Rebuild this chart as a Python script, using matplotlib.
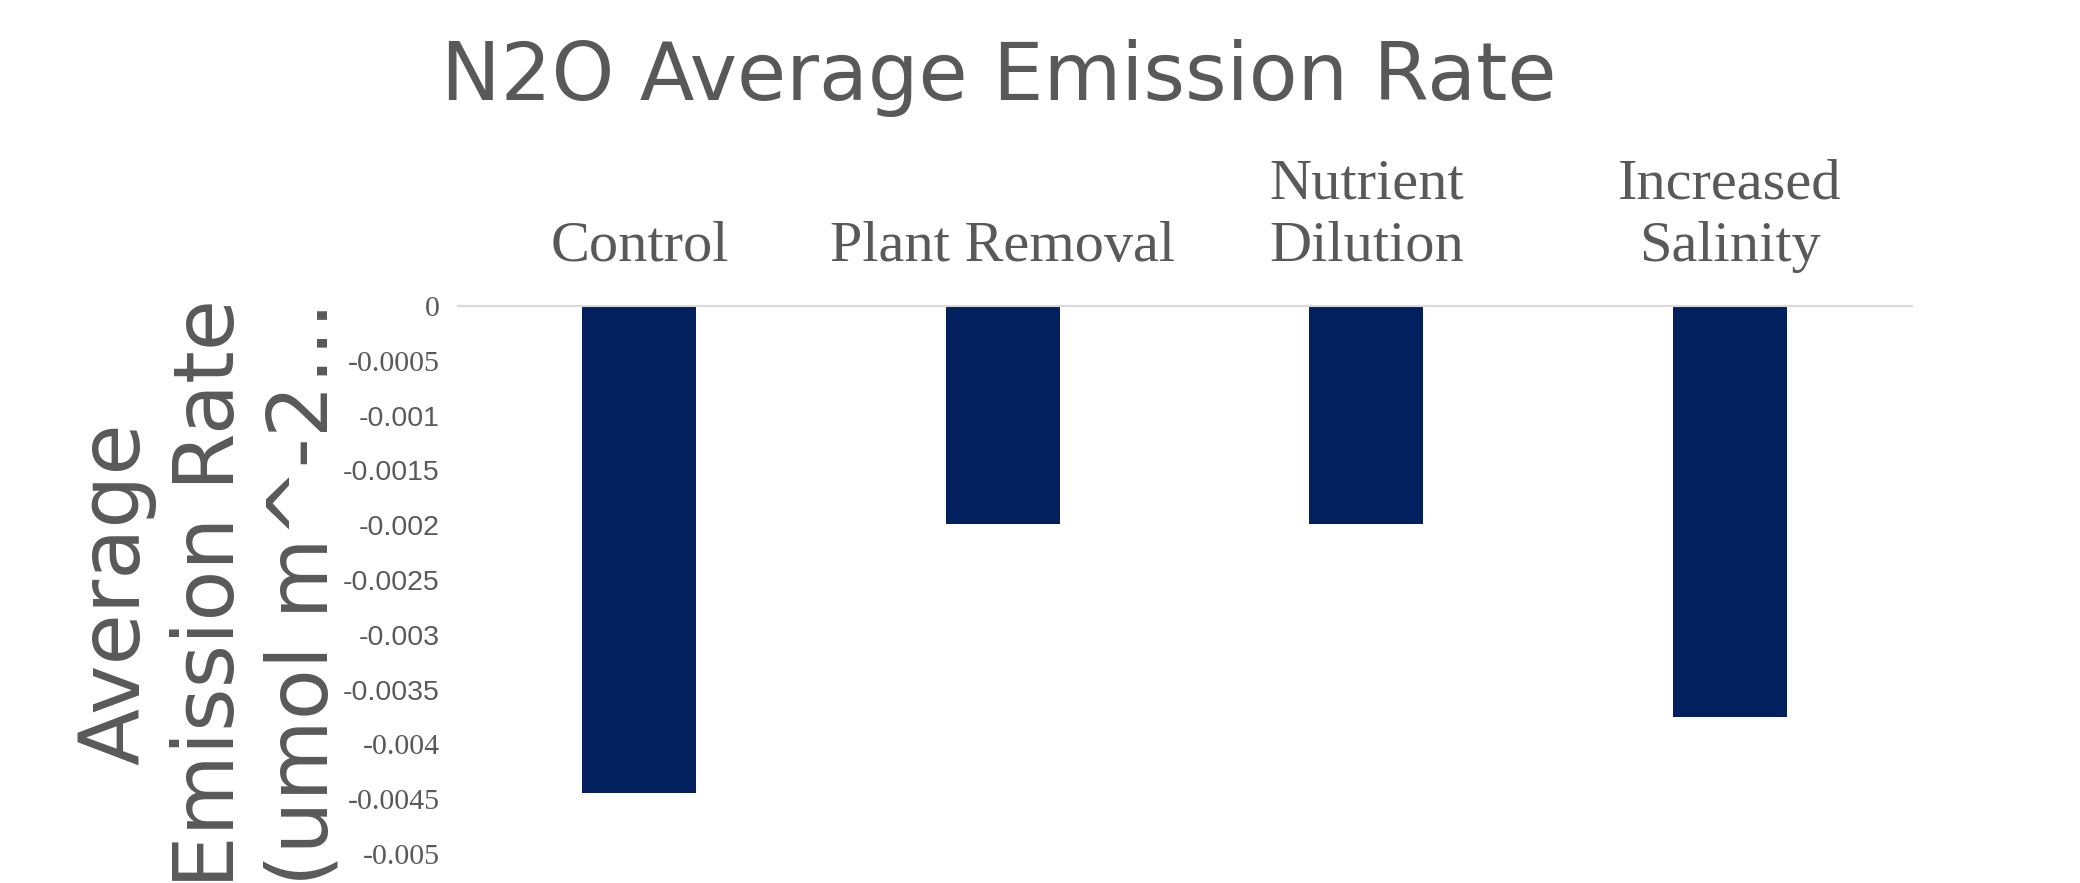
import matplotlib.pyplot as plt

categories = ["Control", "Plant Removal", "Nutrient\nDilution", "Increased\nSalinity"]
emission_rate = [-0.00444, -0.00199, -0.00199, -0.00375]
y_ticks = [0, -0.0005, -0.001, -0.0015, -0.002, -0.0025, -0.003, -0.0035, -0.004, -0.0045, -0.005]
y_tick_labels = ["0", "-0.0005", "-0.001", "-0.0015", "-0.002", "-0.0025", "-0.003",
                 "-0.0035", "-0.004", "-0.0045", "-0.005"]
# the original export mixes two fonts on the value axis
serif_ticks = {"0", "-0.0005", "-0.004", "-0.0045", "-0.005"}

TEXT = "#595959"
BAR = "#03205E"

fig = plt.figure(figsize=(20.8, 8.83), dpi=100)
ax = fig.add_axes([0.220, 0.0328, 0.699, 0.6207])

x = range(len(categories))
ax.bar(x, emission_rate, width=0.314, color=BAR, zorder=2)

ax.set_xlim(-0.5, len(categories) - 0.5)
ax.set_ylim(-0.005, 0)

# category labels above the zero line
ax.xaxis.tick_top()
ax.set_xticks(list(x))
ax.set_xticklabels(categories, fontsize=42, color=TEXT, family="Liberation Serif",
                   linespacing=1.25)
ax.tick_params(axis="x", length=0, pad=24)

ax.set_yticks(y_ticks)
ax.set_yticklabels(y_tick_labels, fontsize=20.5, color=TEXT)
for lbl in ax.get_yticklabels():
    if lbl.get_text() in serif_ticks:
        lbl.set_family("Liberation Serif")
        lbl.set_fontsize(21.5)
    else:
        lbl.set_family("Liberation Sans")
ax.tick_params(axis="y", length=0, pad=13)

for side in ("left", "right", "bottom"):
    ax.spines[side].set_visible(False)
ax.spines["top"].set_color("#D9D9D9")
ax.spines["top"].set_linewidth(1.5)

# axis title, cut off by the figure edge like in the original
fig.text(0.101, 0.328, "Average\nEmission Rate\n(umol m^-2…", fontsize=60, color=TEXT,
         family="DejaVu Sans", rotation=90, ha="center", va="center",
         multialignment="center", linespacing=1.2)

fig.text(0.48, 0.912, "N2O Average Emission Rate", fontsize=57.5, color=TEXT,
         family="DejaVu Sans", ha="center", va="center")

fig.savefig("out.png", dpi=100, facecolor="white")
